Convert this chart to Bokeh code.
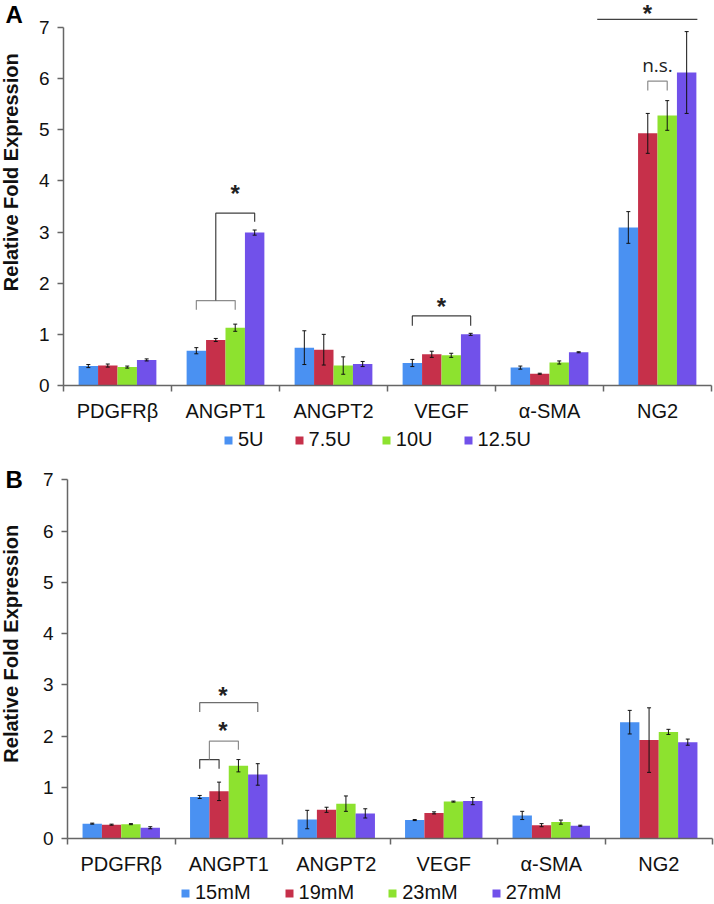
import math
import numpy as np
from bokeh.plotting import figure
from bokeh.models import (ColumnDataSource, Range1d, FixedTicker, Legend, LegendItem,
                          Whisker, TeeHead)
from bokeh.layouts import column, row
from bokeh.embed import file_html
from bokeh.resources import INLINE
from bokeh.core.properties import value

# ---------------- data ----------------
genes = ["PDGFRβ", "ANGPT1", "ANGPT2", "VEGF", "α-SMA", "NG2"]
colors = ["#4A91F2", "#C6304A", "#8DE22F", "#7151EA"]

series_a = ["5U", "7.5U", "10U", "12.5U"]
a_5u = [0.38, 0.68, 0.74, 0.44, 0.35, 3.09]
a_5u_err = [0.03, 0.06, 0.33, 0.07, 0.03, 0.31]
a_75u = [0.39, 0.89, 0.70, 0.61, 0.23, 4.93]
a_75u_err = [0.03, 0.03, 0.30, 0.06, 0.01, 0.39]
a_10u = [0.36, 1.13, 0.39, 0.59, 0.45, 5.28]
a_10u_err = [0.02, 0.07, 0.17, 0.04, 0.03, 0.29]
a_125u = [0.50, 2.99, 0.42, 1.00, 0.65, 6.12]
a_125u_err = [0.02, 0.05, 0.05, 0.02, 0.01, 0.80]

series_b = ["15mM", "19mM", "23mM", "27mM"]
b_15 = [0.29, 0.81, 0.37, 0.36, 0.45, 2.27]
b_15_err = [0.01, 0.03, 0.18, 0.01, 0.08, 0.23]
b_19 = [0.27, 0.92, 0.56, 0.50, 0.26, 1.92]
b_19_err = [0.01, 0.18, 0.05, 0.02, 0.03, 0.63]
b_23 = [0.28, 1.42, 0.68, 0.72, 0.32, 2.08]
b_23_err = [0.01, 0.12, 0.15, 0.01, 0.04, 0.05]
b_27 = [0.21, 1.25, 0.49, 0.73, 0.25, 1.88]
b_27_err = [0.02, 0.21, 0.09, 0.07, 0.01, 0.06]

y_ticks = [0, 1, 2, 3, 4, 5, 6, 7]
y_title = "Relative Fold Expression"

# significance brackets: (gene index, left series, right series, top, left leg end, right leg end, colour)
brackets_a = [
    (1, 0, 2, 1.66, 1.48, 1.48, "#8c8c8c"),
    (1, 1, 3, 3.37, 1.66, 3.20, "#404040"),
    (3, 0, 3, 1.36, 1.17, 1.17, "#404040"),
    (5, 1, 2, 5.95, 5.77, 5.77, "#8c8c8c"),
    (5, -1.6, 3.55, 7.16, 7.16, 7.16, "#404040"),
]
marks_a = [("*", 1, 2.0, 3.75), ("*", 3, 1.5, 1.55), ("*", 5, 0.98, 7.28)]
ns_a = [("n.s.", 5, 1.5, 6.27)]

brackets_b = [
    (1, 0, 1, 1.54, 1.36, 1.36, "#404040"),
    (1, 0.5, 2, 1.90, 1.54, 1.73, "#8c8c8c"),
    (1, 0, 3, 2.65, 2.47, 2.47, "#6e6e6e"),
]
marks_b = [("*", 1, 1.2, 2.10), ("*", 1, 1.2, 2.79)]
ns_b = []

BAR_W = 0.18
FONT = "Liberation Sans"
PAGE_W = 714
GUTTER_W = 34


def xpos(cat, s):
    return cat + 0.5 + (s - 1.5) * BAR_W


def make_panel(letter, series_names, vals, errs, brackets, marks, ns, height,
               border_left, border_right, border_bottom, y_end,
               letter_pos, ylabel_pos):
    main_w = PAGE_W - GUTTER_W
    yr = Range1d(0, y_end)
    p = figure(width=main_w, height=height, x_range=Range1d(0, 6), y_range=yr,
               output_backend="svg", toolbar_location=None,
               min_border_left=border_left, min_border_right=border_right,
               min_border_top=0, min_border_bottom=border_bottom)
    p.outline_line_color = None
    p.xgrid.visible = False
    p.ygrid.visible = False

    for k, name in enumerate(series_names):
        xs = [xpos(i, k) for i in range(len(genes))]
        src = ColumnDataSource(dict(
            x=xs, top=vals[k],
            upper=[v + e for v, e in zip(vals[k], errs[k])],
            lower=[v - e for v, e in zip(vals[k], errs[k])]))
        p.vbar(x="x", top="top", width=BAR_W, bottom=0, source=src,
               fill_color=colors[k], line_color=None)
        w = Whisker(source=src, base="x", upper="upper", lower="lower",
                    line_color="#111111", line_width=1, level="overlay",
                    upper_head=TeeHead(size=4, line_color="#111111", line_width=1),
                    lower_head=TeeHead(size=4, line_color="#111111", line_width=1))
        p.add_layout(w)

    # brackets
    bxs, bys, bcs = [], [], []
    for cat, sl, sr, top, yl, yrr, c in brackets:
        x0, x1 = xpos(cat, sl), xpos(cat, sr)
        bxs.append([x0, x0, x1, x1])
        bys.append([yl, top, top, yrr])
        bcs.append(c)
    p.multi_line(xs=bxs, ys=bys, line_color=bcs, line_width=1.2)

    if marks:
        msrc = ColumnDataSource(dict(
            x=[xpos(c, s) for _, c, s, _ in marks],
            y=[y for _, _, _, y in marks],
            t=[t for t, _, _, _ in marks]))
        p.text(x="x", y="y", text="t", source=msrc, text_align="center",
               text_baseline="alphabetic", text_font=value(FONT),
               text_font_size="24px", text_font_style="bold", text_color="#222222")
    if ns:
        nsrc = ColumnDataSource(dict(
            x=[xpos(c, s) for _, c, s, _ in ns],
            y=[y for _, _, _, y in ns],
            t=[t for t, _, _, _ in ns]))
        p.text(x="x", y="y", text="t", source=nsrc, text_align="center",
               text_baseline="alphabetic", text_font=value("Open Sans"),
               text_font_size="19px", text_color="#222222")

    # x axis: category boundaries as minor ticks, names at centres
    xa = p.xaxis[0]
    xa.ticker = FixedTicker(ticks=[i + 0.5 for i in range(len(genes))],
                            minor_ticks=list(range(len(genes) + 1)))
    xa.major_label_overrides = {i + 0.5: g for i, g in enumerate(genes)}
    xa.major_tick_line_color = None
    xa.major_tick_out = 6
    xa.major_tick_in = 0
    xa.minor_tick_out = 6
    xa.minor_tick_in = 0
    xa.minor_tick_line_color = "#666666"
    xa.minor_tick_line_width = 1.5
    xa.axis_line_color = "#666666"
    xa.axis_line_width = 1.5
    xa.bounds = (0, 6)
    xa.major_label_standoff = 8
    xa.major_label_text_font = FONT
    xa.major_label_text_font_size = "20px"
    xa.major_label_text_color = "#111111"

    ya = p.yaxis[0]
    ya.ticker = FixedTicker(ticks=y_ticks, minor_ticks=[])
    ya.major_tick_out = 6
    ya.major_tick_in = 0
    ya.major_tick_line_color = "#666666"
    ya.major_tick_line_width = 1.5
    ya.axis_line_color = "#666666"
    ya.axis_line_width = 1.5
    ya.bounds = (0, 7)
    ya.major_label_standoff = 8
    ya.major_label_text_font = FONT
    ya.major_label_text_font_size = "19px"
    ya.major_label_text_color = "#111111"

    # gutter with panel letter and y title, sharing the y scale
    g = figure(width=GUTTER_W, height=height, x_range=Range1d(0, GUTTER_W), y_range=yr,
               output_backend="svg", toolbar_location=None,
               x_axis_location=None, y_axis_location=None,
               min_border_left=0, min_border_right=0, min_border_top=0,
               min_border_bottom=border_bottom)
    g.outline_line_color = None
    g.xgrid.visible = False
    g.ygrid.visible = False
    g.text(x=[letter_pos[0]], y=[letter_pos[1]], text=[letter], text_align="left",
           text_baseline="alphabetic", text_font=value(FONT), text_font_size="24px",
           text_font_style="bold", text_color="#000000")
    g.text(x=[ylabel_pos[0]], y=[ylabel_pos[1]], text=[y_title], angle=math.pi / 2,
           text_align="center", text_baseline="middle", text_font=value(FONT),
           text_font_size="20px", text_font_style="bold", text_color="#111111")
    return row(g, p, spacing=0)


def make_legend(series_names, height, left, bottom, spacing):
    lf = figure(width=PAGE_W, height=height, x_range=Range1d(0, PAGE_W),
                y_range=Range1d(0, height), output_backend="svg", toolbar_location=None,
                x_axis_location=None, y_axis_location=None,
                min_border_left=0, min_border_right=0, min_border_top=0, min_border_bottom=0)
    lf.outline_line_color = None
    lf.xgrid.visible = False
    lf.ygrid.visible = False
    items = []
    for k, name in enumerate(series_names):
        # legend-only renderer (nothing drawn in this strip)
        r = lf.vbar(x=np.array([np.nan]), top=np.array([np.nan]), width=1,
                    fill_color=colors[k], line_color=None)
        items.append(LegendItem(label=name, renderers=[r]))
    legend = Legend(items=items, orientation="horizontal", location=(left, bottom),
                    glyph_width=10, glyph_height=10, label_standoff=5, spacing=spacing,
                    padding=1, margin=0, border_line_color=None,
                    background_fill_alpha=0, label_text_font=FONT,
                    label_text_font_size="20px", label_text_color="#111111")
    lf.add_layout(legend, "center")
    return lf


rowA = make_panel("A", series_a, [a_5u, a_75u, a_10u, a_125u],
                  [a_5u_err, a_75u_err, a_10u_err, a_125u_err],
                  brackets_a, marks_a, ns_a, height=425,
                  border_left=29, border_right=3, border_bottom=40, y_end=7.528,
                  letter_pos=(5, 7.26), ylabel_pos=(10, 4.17))
legA = make_legend(series_a, height=27, left=223, bottom=1, spacing=30)
rowB = make_panel("B", series_b, [b_15, b_19, b_23, b_27],
                  [b_15_err, b_19_err, b_23_err, b_27_err],
                  brackets_b, marks_b, ns_b, height=428,
                  border_left=33, border_right=2, border_bottom=42, y_end=7.532,
                  letter_pos=(5, 7.00), ylabel_pos=(10, 3.80))
legB = make_legend(series_b, height=24, left=180, bottom=0, spacing=33)

layout = column(rowA, legA, rowB, legB, spacing=0)
open("out.html", "w").write(file_html(layout, INLINE))
